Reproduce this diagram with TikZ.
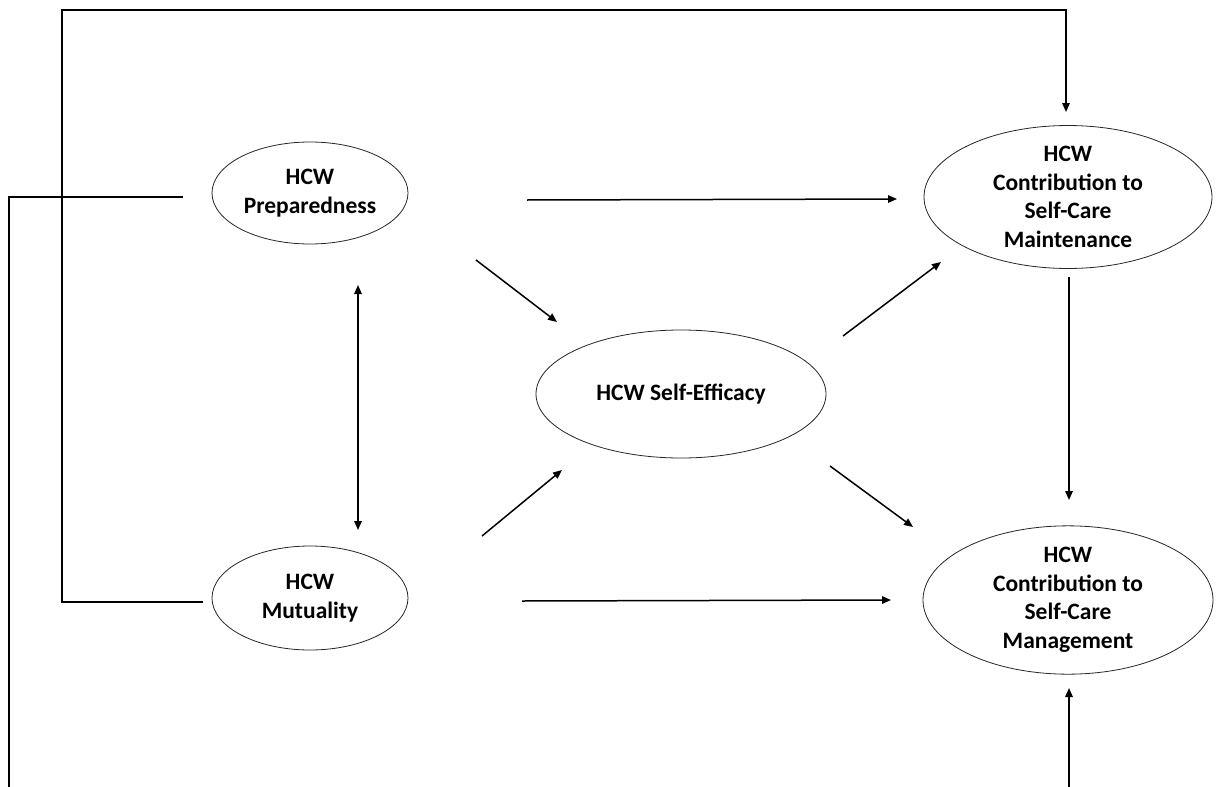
\documentclass[tikz,border=0pt]{standalone}
\usepackage{fontspec}
\setmainfont{Carlito}
\usetikzlibrary{shapes.geometric,arrows.meta,calc}
\begin{document}
\begin{tikzpicture}[x=1pt,y=-1pt,
  ell/.style={ellipse,draw=black!85,line width=0.8pt,inner sep=0pt,align=center,
    font=\fontsize{23.5}{28.5}\selectfont\bfseries},
  conn/.style={line width=1.5pt,black},
  arr/.style={conn,-{Triangle[length=9pt,width=7.5pt]}},
  darr/.style={conn,{Triangle[length=9pt,width=7.5pt]}-{Triangle[length=9pt,width=7.5pt]}}]
\useasboundingbox (0,0) rectangle (1218,787);
\node[ell,minimum width=196pt,minimum height=102pt] (prep) at (310,193) {HCW\\Preparedness};
\node[ell,minimum width=288pt,minimum height=124pt] (maint) at (1068,197) {HCW\\Contribution to\\Self-Care\\Maintenance};
\node[ell,minimum width=290pt,minimum height=128pt] (se) at (681,394) {HCW Self-Efficacy};
\node[ell,minimum width=196pt,minimum height=104pt] (mut) at (310,598) {HCW\\Mutuality};
\node[ell,minimum width=290pt,minimum height=126pt] (mgmt) at (1068,600) {HCW\\Contribution to\\Self-Care\\Management};
\coordinate (topleft) at (62,10);
\coordinate (leftbottom) at (9,787);
\coordinate (rightbottom) at (1069,787);
% arrows
\draw[arr] ($(prep)+(217,7)$) -- ($(maint)+(-171,2)$);
\draw[arr] ($(prep)+(166,67)$) -- ($(se)+(-124,-72)$);
\draw[arr] ($(se)+(162,-58)$) -- ($(maint)+(-127,65)$);
\draw[arr] ($(maint)+(1,80)$) -- ($(mgmt)+(1,-100)$);
\draw[darr] ($(prep)+(48,92)$) -- ($(mut)+(48,-68)$);
\draw[arr] ($(mut)+(172,-62)$) -- ($(se)+(-119,76)$);
\draw[arr] ($(se)+(149,72)$) -- ($(mgmt)+(-155,-73)$);
\draw[arr] ($(mut)+(212,3)$) -- ($(mgmt)+(-177,0)$);
\draw[arr] ($(mut)+(-107,4)$) -| (topleft) -| ($(maint)+(-2,-85)$);
\draw[conn] ($(prep)+(-127,4)$) -| (leftbottom);
\draw[arr] (rightbottom) -- ($(mgmt)+(1,88)$);
\end{tikzpicture}
\end{document}
